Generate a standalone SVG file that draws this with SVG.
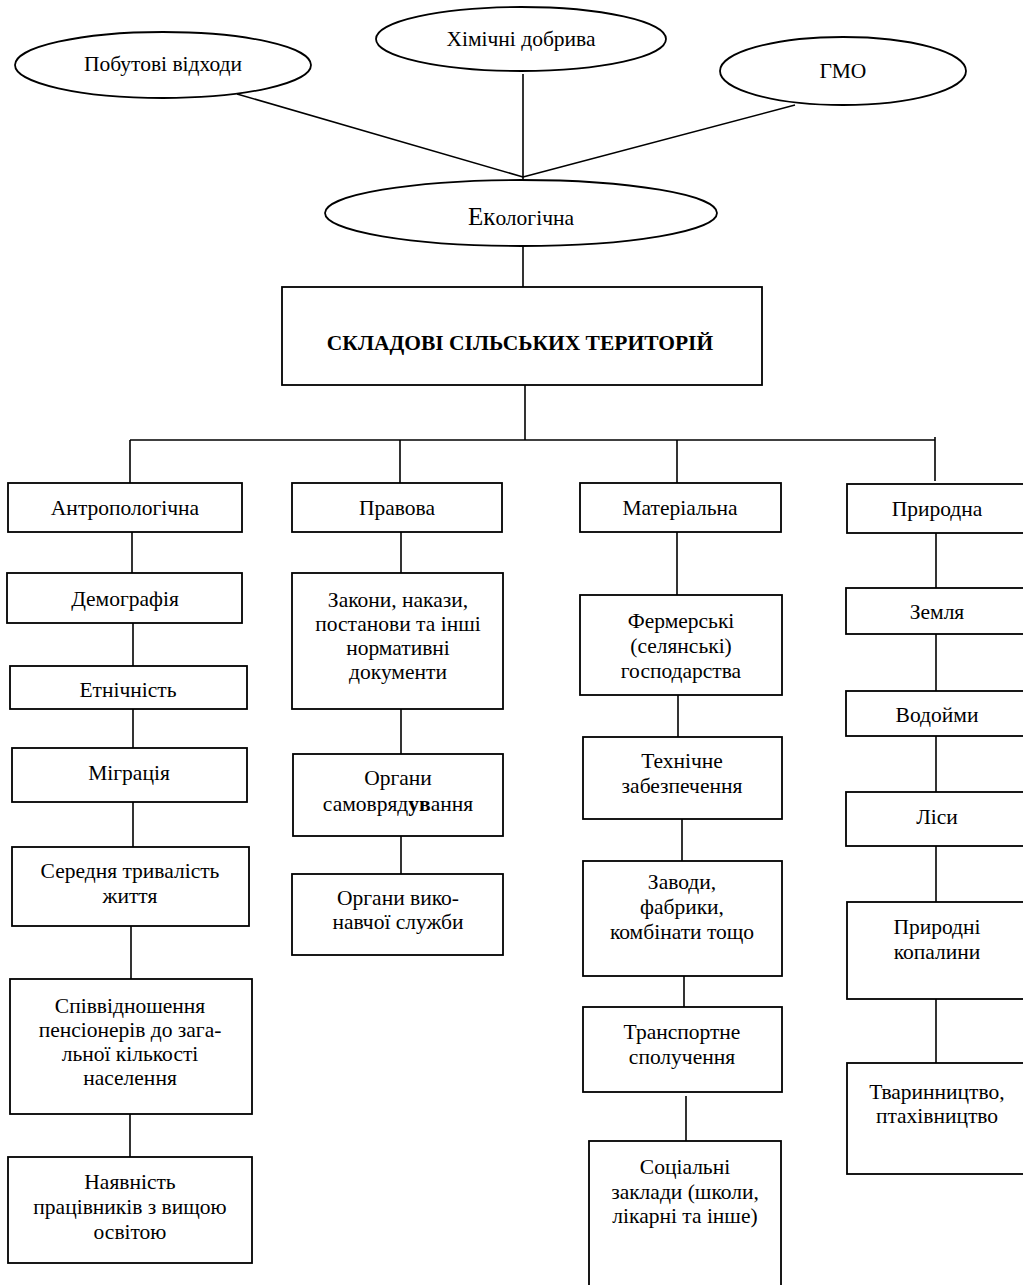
<svg xmlns="http://www.w3.org/2000/svg" width="1023" height="1285" viewBox="0 0 1023 1285">
<style>
  .bg{fill:#ffffff}
  .node{fill:#ffffff;stroke:#000;stroke-width:1.8}
  .conn line{stroke:#000;stroke-width:1.6}
  text{font-family:"Liberation Serif","Times New Roman",serif;font-size:21.5px;fill:#000;text-anchor:middle}
  .title{font-weight:bold}
</style>
<rect class="bg" x="0" y="0" width="1023" height="1285"/>
<g id="connectors" class="conn">
  <line x1="237" y1="94" x2="523" y2="177"/>
  <line x1="523" y1="74" x2="523" y2="181"/>
  <line x1="795" y1="105" x2="523" y2="177"/>
  <line x1="523" y1="246" x2="523" y2="287"/>
  <line x1="525" y1="385" x2="525" y2="440"/>
  <line x1="130" y1="440" x2="935" y2="440"/>
  <line x1="130" y1="440" x2="130" y2="483"/>
  <line x1="400" y1="440" x2="400" y2="483"/>
  <line x1="677" y1="440" x2="677" y2="483"/>
  <line x1="935" y1="437" x2="935" y2="481"/>
  <!-- column 1 -->
  <line x1="132" y1="532" x2="132" y2="573"/>
  <line x1="133" y1="623" x2="133" y2="666"/>
  <line x1="133" y1="709" x2="133" y2="748"/>
  <line x1="133" y1="802" x2="133" y2="847"/>
  <line x1="131" y1="926" x2="131" y2="979"/>
  <line x1="130" y1="1114" x2="130" y2="1157"/>
  <!-- column 2 -->
  <line x1="401" y1="532" x2="401" y2="573"/>
  <line x1="401" y1="709" x2="401" y2="754"/>
  <line x1="401" y1="836" x2="401" y2="874"/>
  <!-- column 3 -->
  <line x1="677" y1="532" x2="677" y2="595"/>
  <line x1="678" y1="695" x2="678" y2="737"/>
  <line x1="682" y1="819" x2="682" y2="861"/>
  <line x1="684" y1="976" x2="684" y2="1007"/>
  <line x1="686" y1="1096" x2="686" y2="1141"/>
  <!-- column 4 -->
  <line x1="936" y1="533" x2="936" y2="588"/>
  <line x1="936" y1="634" x2="936" y2="691"/>
  <line x1="936" y1="736" x2="936" y2="792"/>
  <line x1="936" y1="846" x2="936" y2="902"/>
  <line x1="936" y1="999" x2="936" y2="1063"/>
</g>

<g id="n-pobutovi">
  <ellipse class="node" cx="163" cy="65" rx="148" ry="33"/>
  <text x="163" y="71" font-size="22">Побутові відходи</text>
</g>
<g id="n-khimichni">
  <ellipse class="node" cx="521" cy="39" rx="145" ry="32"/>
  <text x="521" y="46" font-size="22">Хімічні добрива</text>
</g>
<g id="n-gmo">
  <ellipse class="node" cx="843" cy="71" rx="123" ry="34"/>
  <text x="843" y="78" font-size="22">ГМО</text>
</g>
<g id="n-ekolohichna">
  <ellipse class="node" cx="521" cy="213" rx="196" ry="33"/>
  <text x="521" y="225" font-size="22"><tspan font-size="25">Ек</tspan>ологічна</text>
</g>
<g id="n-main">
  <rect class="node" x="282" y="287" width="480" height="98"/>
  <text class="title" x="520" y="350">СКЛАДОВІ СІЛЬСЬКИХ ТЕРИТОРІЙ</text>
</g>

<g id="n-antropolohichna">
  <rect class="node" x="8" y="483" width="234" height="49"/>
  <text x="125" y="515">Антропологічна</text>
</g>
<g id="n-pravova">
  <rect class="node" x="292" y="483" width="210" height="49"/>
  <text x="397" y="515">Правова</text>
</g>
<g id="n-materialna">
  <rect class="node" x="580" y="483" width="201" height="49"/>
  <text x="680" y="515">Матеріальна</text>
</g>
<g id="n-pryrodna">
  <rect class="node" x="847" y="484" width="180" height="49"/>
  <text x="937" y="516">Природна</text>
</g>

<g id="n-demohrafiia">
  <rect class="node" x="7" y="573" width="235" height="50"/>
  <text x="125" y="606">Демографія</text>
</g>
<g id="n-etnichnist">
  <rect class="node" x="10" y="666" width="237" height="43"/>
  <text x="128" y="697">Етнічність</text>
</g>
<g id="n-mihratsiia">
  <rect class="node" x="12" y="748" width="235" height="54"/>
  <text x="129" y="780">Міграція</text>
</g>
<g id="n-serednia">
  <rect class="node" x="12" y="847" width="237" height="79"/>
  <text x="130" y="878">Середня тривалість</text>
  <text x="130" y="903">життя</text>
</g>
<g id="n-spivvidnoshennia">
  <rect class="node" x="10" y="979" width="242" height="135"/>
  <text x="130" y="1013">Співвідношення</text>
  <text x="130" y="1037">пенсіонерів до зага-</text>
  <text x="130" y="1061">льної кількості</text>
  <text x="130" y="1085">населення</text>
</g>
<g id="n-naiavnist">
  <rect class="node" x="8" y="1157" width="244" height="106"/>
  <text x="130" y="1189">Наявність</text>
  <text x="130" y="1214">працівників з вищою</text>
  <text x="130" y="1239">освітою</text>
</g>

<g id="n-zakony">
  <rect class="node" x="292" y="573" width="211" height="136"/>
  <text x="398" y="607">Закони, накази,</text>
  <text x="398" y="631">постанови та інші</text>
  <text x="398" y="655">нормативні</text>
  <text x="398" y="679">документи</text>
</g>
<g id="n-samovriaduvannia">
  <rect class="node" x="293" y="754" width="210" height="82"/>
  <text x="398" y="785">Органи</text>
  <text x="398" y="811">самовряд<tspan font-weight="bold">ув</tspan>ання</text>
</g>
<g id="n-vykonavchoi">
  <rect class="node" x="292" y="874" width="211" height="81"/>
  <text x="398" y="905">Органи вико-</text>
  <text x="398" y="929">навчої служби</text>
</g>

<g id="n-fermerski">
  <rect class="node" x="580" y="595" width="202" height="100"/>
  <text x="681" y="628">Фермерські</text>
  <text x="681" y="653">(селянські)</text>
  <text x="681" y="678">господарства</text>
</g>
<g id="n-tekhnichne">
  <rect class="node" x="583" y="737" width="199" height="82"/>
  <text x="682" y="768">Технічне</text>
  <text x="682" y="793">забезпечення</text>
</g>
<g id="n-zavody">
  <rect class="node" x="583" y="861" width="199" height="115"/>
  <text x="682" y="889">Заводи,</text>
  <text x="682" y="914">фабрики,</text>
  <text x="682" y="939">комбінати тощо</text>
</g>
<g id="n-transportne">
  <rect class="node" x="583" y="1007" width="199" height="85"/>
  <text x="682" y="1039">Транспортне</text>
  <text x="682" y="1064">сполучення</text>
</g>
<g id="n-sotsialni">
  <rect class="node" x="589" y="1141" width="192" height="150"/>
  <text x="685" y="1174">Соціальні</text>
  <text x="685" y="1199">заклади (школи,</text>
  <text x="685" y="1223">лікарні та інше)</text>
</g>

<g id="n-zemlia">
  <rect class="node" x="846" y="588" width="181" height="46"/>
  <text x="937" y="619">Земля</text>
</g>
<g id="n-vodoimy">
  <rect class="node" x="846" y="691" width="181" height="45"/>
  <text x="937" y="722">Водойми</text>
</g>
<g id="n-lisy">
  <rect class="node" x="846" y="792" width="181" height="54"/>
  <text x="937" y="824">Ліси</text>
</g>
<g id="n-kopalyny">
  <rect class="node" x="847" y="902" width="180" height="97"/>
  <text x="937" y="934">Природні</text>
  <text x="937" y="959">копалини</text>
</g>
<g id="n-tvarynnytstvo">
  <rect class="node" x="847" y="1063" width="180" height="111"/>
  <text x="937" y="1099">Тваринництво,</text>
  <text x="937" y="1123">птахівництво</text>
</g>
</svg>
